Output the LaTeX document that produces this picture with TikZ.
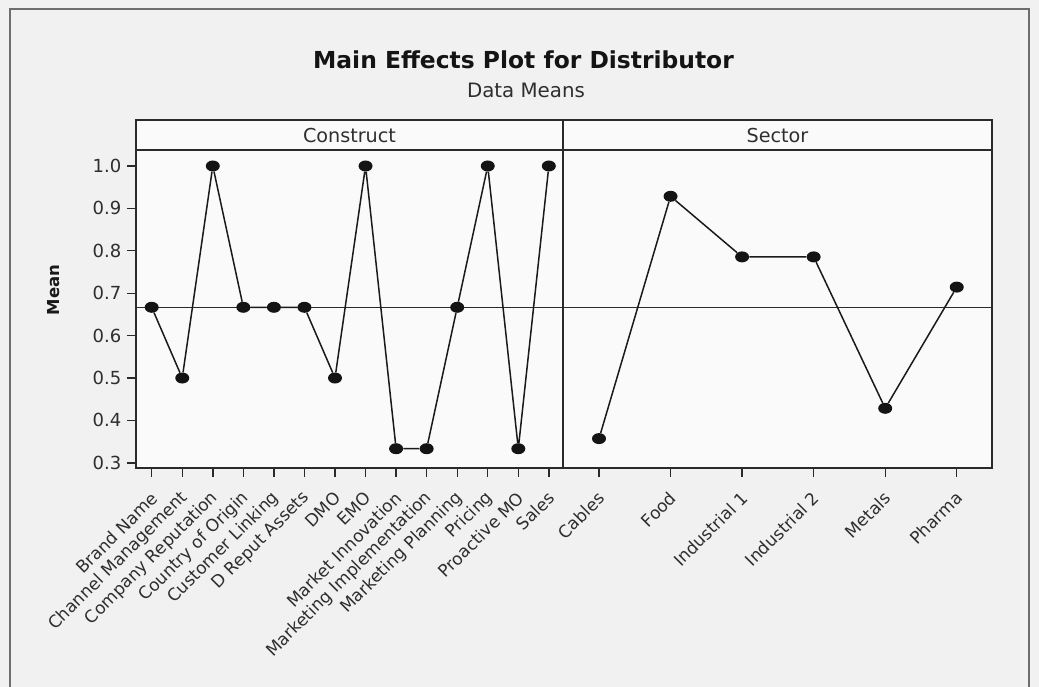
\documentclass[tikz,border=0pt]{standalone}
\usepackage{fontspec}
\setmainfont{DejaVu Sans}
\usetikzlibrary{shapes.geometric}
\definecolor{pagebg}{HTML}{F1F1F1}
\definecolor{panelbg}{HTML}{FAFAFA}
\definecolor{framec}{HTML}{6E6E6E}
\definecolor{axisc}{HTML}{2A2A2A}
\definecolor{textc}{HTML}{2E2E2E}
\definecolor{linec}{HTML}{1A1A1A}
\begin{document}
\begin{tikzpicture}[x=1pt,y=-1pt,
  axis/.style={draw=axisc, line width=1.4pt},
  datal/.style={draw=linec, line width=1.5pt},
  dot/.style={ellipse, fill=black!92, minimum width=14pt, minimum height=11pt, inner sep=0pt},
  ticklab/.style={anchor=east, inner sep=0pt, text=textc, font=\fontsize{18}{20}\selectfont},
  xlab/.style={rotate=45, anchor=east, inner sep=0pt, text=textc, font=\fontsize{17}{19}\selectfont},
  striplab/.style={anchor=base, inner sep=0pt, text=textc, font=\fontsize{19.2}{22}\selectfont}]
\useasboundingbox (0,0) rectangle (1039,687);
\fill[pagebg] (0,0) rectangle (1039,687);
% outer frame, open at the bottom edge of the page
\draw[framec, line width=1.5pt] (10,687) -- (10,9) -- (1029,9) -- (1029,687);

% titles
\node[anchor=base, inner sep=0pt, font=\bfseries\fontsize{23.4}{26}\selectfont, text=black!92] (title) at (523.5,68.3) {Main Effects Plot for Distributor};
\node[anchor=base, inner sep=0pt, font=\fontsize{19.8}{22}\selectfont, text=textc] (subtitle) at (526,97.7) {Data Means};

% panels and strips
\fill[panelbg] (136,120) rectangle (992,468);
\draw[axis] (136,120) rectangle (992,468);
\draw[axis] (136,150) -- (992,150);
\draw[axis] (563,120) -- (563,468);
\node[striplab] (strip1) at (349.5,142.6) {Construct};
\node[striplab] (strip2) at (777.5,142.6) {Sector};

% overall mean
\draw[axis, line width=1.3pt] (136,307.3) -- (992,307.3);

% y axis
\foreach \lab/\y [count=\k] in {1.0/166,0.9/208.4,0.8/250.8,0.7/293.2,0.6/335.6,0.5/378,0.4/420.4,0.3/462.8}{
  \draw[axis] (127,\y) -- (136,\y);
  \node[ticklab] (yl\k) at (121.5,\y) {\lab};
}
\node[rotate=90, anchor=center, inner sep=0pt, font=\bfseries\fontsize{16.5}{19}\selectfont, text=black!90] (ylabel) at (54,290) {Mean};

% x ticks and level names, Construct
\foreach \x/\t [count=\k] in {151.7/Brand Name,182.25/Channel Management,212.8/Company Reputation,243.35/Country of Origin,273.9/Customer Linking,304.45/D Reput Assets,335.0/DMO,365.55/EMO,396.1/Market Innovation,426.65/Marketing Implementation,457.2/Marketing Planning,487.75/Pricing,518.3/Proactive MO,548.85/Sales}{
  \draw[axis] (\x,468) -- (\x,477);
  \node[xlab] (cl\k) at (\x+2.5,495) {\t};
}
% x ticks and level names, Sector
\foreach \x/\t [count=\k] in {599/Cables,670.55/Food,742.1/Industrial 1,813.65/Industrial 2,885.2/Metals,956.75/Pharma}{
  \draw[axis] (\x,468) -- (\x,477);
  \node[xlab] (sl\k) at (\x+2.5,495) {\t};
}

% level means, Construct
\foreach \x/\y [count=\k] in {151.7/307.3,182.25/378,212.8/166,243.35/307.3,273.9/307.3,304.45/307.3,335.0/378,365.55/166,396.1/448.7,426.65/448.7,457.2/307.3,487.75/166,518.3/448.7,548.85/166}{
  \node[dot] (c\k) at (\x,\y) {};
}
\draw[datal] (c1) -- (c2) -- (c3) -- (c4) -- (c5) -- (c6) -- (c7) -- (c8) -- (c9) -- (c10) -- (c11) -- (c12) -- (c13) -- (c14);

% level means, Sector
\foreach \x/\y [count=\k] in {599/438.6,670.55/196.3,742.1/256.9,813.65/256.9,885.2/408.3,956.75/287.1}{
  \node[dot] (s\k) at (\x,\y) {};
}
\draw[datal] (s1) -- (s2) -- (s3) -- (s4) -- (s5) -- (s6);
\end{tikzpicture}
\end{document}
